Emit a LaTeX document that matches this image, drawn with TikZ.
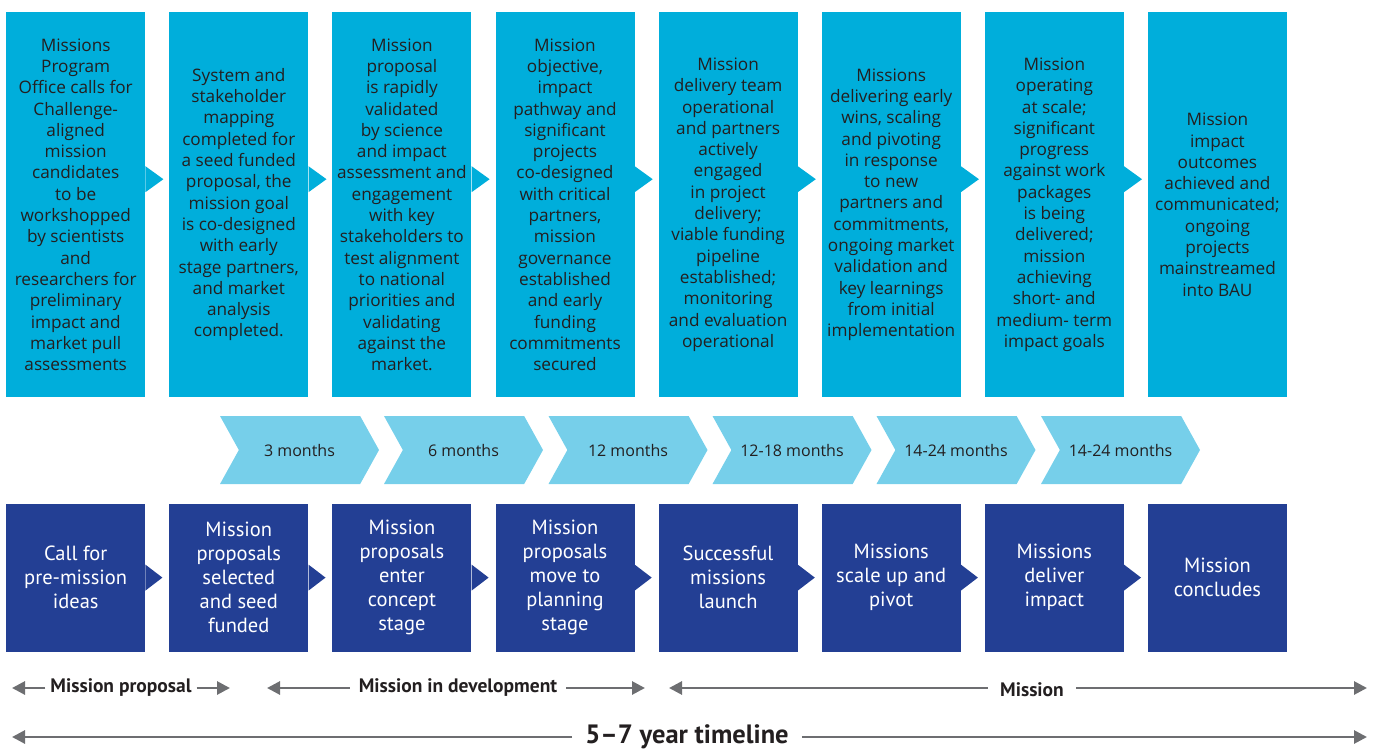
\documentclass[tikz,border=0pt]{standalone}
\usepackage{fontspec}
\setmainfont{Open Sans}
\newfontfamily\narrowsans{PT Sans}
\usepackage{xcolor}
\usetikzlibrary{positioning,arrows.meta,shapes.symbols}
\definecolor{topblue}{HTML}{00AEDB}
\definecolor{chevblue}{HTML}{76CFEA}
\definecolor{darkblue}{HTML}{233F94}
\definecolor{linegray}{HTML}{6D6E71}
\definecolor{inkdark}{HTML}{231F20}

\begin{document}
\begin{tikzpicture}[x=1pt, y=-1pt,
  node distance=24.1pt and 23.7pt,
  stage/.style={fill=topblue, minimum width=139pt, minimum height=385pt, inner sep=0pt,
    align=center, text=inkdark, font=\fontsize{17.2}{21.3}\selectfont},
  step box/.style={fill=darkblue, minimum width=139pt, minimum height=148pt, inner sep=0pt,
    align=center, text=white, font=\narrowsans\fontsize{20.5}{24}\selectfont},
  chev/.style={shape=signal, signal to=east, signal from=west, signal pointer angle=122,
    fill=chevblue, minimum width=159pt, minimum height=68pt, inner sep=0pt,
    text=inkdark, font=\fontsize{16}{18}\selectfont},
  lab/.style={inner xsep=8pt, inner ysep=0pt, text=inkdark, font=\narrowsans\fontsize{19.5}{21}\bfseries\selectfont},
  garr/.style={draw=linegray, line width=2.8pt, -{Triangle[length=13pt, width=13pt]}}]
\useasboundingbox (0,0) rectangle (1375,749);

% what happens at each stage
\node[stage, anchor=north west] (t1) at (6,12) {Missions\\Program\\Office calls for\\Challenge-\\aligned\\mission\\candidates\\to be\\workshopped\\by scientists\\and\\researchers for\\preliminary\\impact and\\market pull\\assessments};
\node[stage, right=of t1] (t2) {System and\\stakeholder\\mapping\\completed for\\a seed funded\\proposal, the\\mission goal\\is co-designed\\with early\\stage partners,\\and market\\analysis\\completed.};
\node[stage, right=of t2] (t3) {Mission\\proposal\\is rapidly\\validated\\by science\\and impact\\assessment and\\engagement\\with key\\stakeholders to\\test alignment\\to national\\priorities and\\validating\\against the\\market.};
\node[stage, right=of t3] (t4) {Mission\\objective,\\impact\\pathway and\\significant\\projects\\co-designed\\with critical\\partners,\\mission\\governance\\established\\and early\\funding\\commitments\\secured};
\node[stage, right=of t4] (t5) {Mission\\delivery team\\operational\\and partners\\actively\\engaged\\in project\\delivery;\\viable funding\\pipeline\\established;\\monitoring\\and evaluation\\operational};
\node[stage, right=of t5] (t6) {Missions\\delivering early\\wins, scaling\\and pivoting\\in response\\to new\\partners and\\commitments,\\ongoing market\\validation and\\key learnings\\from initial\\implementation};
\node[stage, right=of t6] (t7) {Mission\\operating\\at scale;\\significant\\progress\\against work\\packages\\is being\\delivered;\\mission\\achieving\\short- and\\medium- term\\impact goals};
\node[stage, right=of t7] (t8) {Mission\\impact\\outcomes\\achieved and\\communicated;\\ongoing\\projects\\mainstreamed\\into BAU};
\fill[topblue] ([yshift=38.5]t1.east) -- ++(18,13) -- ++(-18,13) -- cycle;
\fill[topblue] ([yshift=38.5]t2.east) -- ++(18,13) -- ++(-18,13) -- cycle;
\fill[topblue] ([yshift=38.5]t3.east) -- ++(18,13) -- ++(-18,13) -- cycle;
\fill[topblue] ([yshift=38.5]t4.east) -- ++(18,13) -- ++(-18,13) -- cycle;
\fill[topblue] ([yshift=38.5]t5.east) -- ++(18,13) -- ++(-18,13) -- cycle;
\fill[topblue] ([yshift=38.5]t6.east) -- ++(18,13) -- ++(-18,13) -- cycle;
\fill[topblue] ([yshift=38.5]t7.east) -- ++(18,13) -- ++(-18,13) -- cycle;

% durations
\node[chev] (m1) at (299.5,450) {3 months};
\node[chev] (m2) at (463.5,450) {6 months};
\node[chev] (m3) at (628,450) {12 months};
\node[chev] (m4) at (792,450) {12-18 months};
\node[chev] (m5) at (956,450) {14-24 months};
\node[chev] (m6) at (1120.5,450) {14-24 months};

% milestones
\node[step box, below=106pt of t1] (b1) {Call for\\pre-mission\\ideas};
\node[step box, below=106pt of t2] (b2) {Mission\\proposals\\selected\\and seed\\funded};
\node[step box, below=106pt of t3] (b3) {Mission\\proposals\\enter\\concept\\stage};
\node[step box, below=106pt of t4] (b4) {Mission\\proposals\\move to\\planning\\stage};
\node[step box, below=106pt of t5] (b5) {Successful\\missions\\launch};
\node[step box, below=106pt of t6] (b6) {Missions\\scale up and\\pivot};
\node[step box, below=106pt of t7] (b7) {Missions\\deliver\\impact};
\node[step box, below=106pt of t8] (b8) {Mission\\concludes};
\fill[darkblue] ([yshift=13]b1.east) -- ++(17,13) -- ++(-17,13) -- cycle;
\fill[darkblue] ([yshift=13]b2.east) -- ++(17,13) -- ++(-17,13) -- cycle;
\fill[darkblue] ([yshift=13]b3.east) -- ++(17,13) -- ++(-17,13) -- cycle;
\fill[darkblue] ([yshift=13]b4.east) -- ++(17,13) -- ++(-17,13) -- cycle;
\fill[darkblue] ([yshift=13]b5.east) -- ++(17,13) -- ++(-17,13) -- cycle;
\fill[darkblue] ([yshift=13]b6.east) -- ++(17,13) -- ++(-17,13) -- cycle;
\fill[darkblue] ([yshift=13]b7.east) -- ++(17,13) -- ++(-17,13) -- cycle;

% phases
\node[lab, inner xsep=5pt] (prop) at (121,688) {Mission proposal};
\coordinate (propL) at (12,688); \coordinate (propR) at (230,688);
\node[lab, inner xsep=9pt] (dev) at (458,688) {Mission in development};
\coordinate (devL) at (267,688); \coordinate (devR) at (645,688);
\node[lab, inner xsep=12pt] (msn) at (1032,690) {Mission};
\coordinate (msnL) at (669,688); \coordinate (msnR) at (1367,688);
\node[lab, inner xsep=13pt, font=\narrowsans\fontsize{26.5}{27}\bfseries\selectfont] (span) at (687,737) {5–7 year timeline};
\coordinate (spanL) at (12,737); \coordinate (spanR) at (1367,737);
\draw[garr] (prop) -- (propL); \draw[garr] (prop) -- (propR);
\draw[garr] (dev) -- (devL); \draw[garr] (dev) -- (devR);
\draw[garr] (msn.west |- msnL) -- (msnL); \draw[garr] (msn.east |- msnR) -- (msnR);
\draw[garr] (span) -- (spanL); \draw[garr] (span) -- (spanR);
\end{tikzpicture}
\end{document}
